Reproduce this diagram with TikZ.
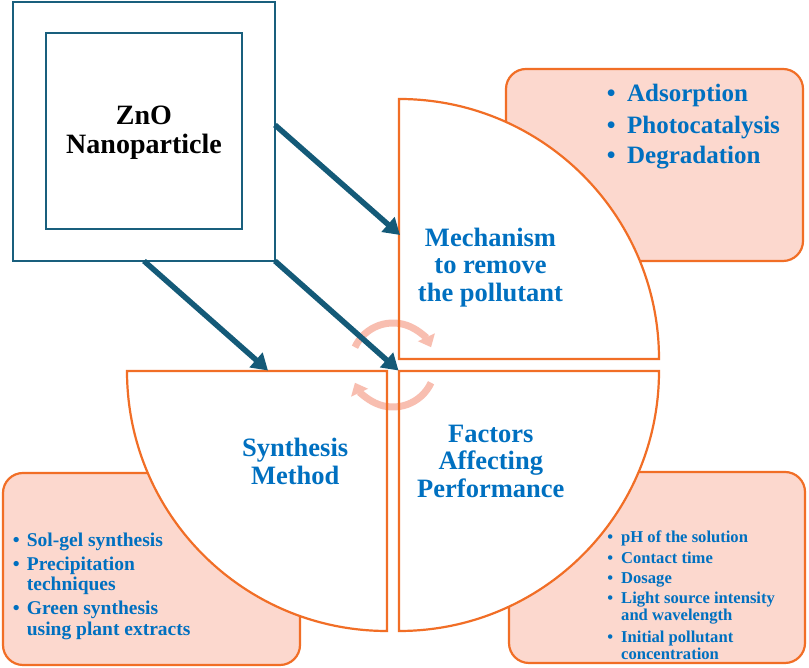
\documentclass[tikz,border=0pt]{standalone}
\usepackage{fontspec}
\setmainfont{Liberation Serif}
\usetikzlibrary{arrows.meta}
\definecolor{orng}{RGB}{241,110,38}
\definecolor{pinkf}{RGB}{252,216,206}
\definecolor{txtblue}{RGB}{0,112,192}
\definecolor{arrcol}{RGB}{20,90,120}
\definecolor{zcol}{RGB}{25,95,125}
\definecolor{cyccol}{RGB}{248,190,176}
\begin{document}
\begin{tikzpicture}[x=1pt,y=1pt,
  pinkbox/.style={draw=orng, line width=2.2pt, fill=pinkf, rounded corners=20pt},
  quartline/.style={draw=orng, line width=2.2pt, line join=miter},
  zbox/.style={draw=zcol, line width=2.4pt, rectangle, inner sep=0pt, outer sep=0pt},
  ztext/.style={text=black, align=center, inner sep=0pt, font=\fontsize{28}{29}\selectfont\bfseries},
  ttl/.style={text=txtblue, align=center, inner sep=0pt, font=\fontsize{26.5}{27.5}\selectfont\bfseries},
  itemA/.style={anchor=base west, inner sep=0pt, text=txtblue, font=\fontsize{25}{31}\selectfont\bfseries},
  itemB/.style={anchor=base west, inner sep=0pt, text=txtblue, font=\fontsize{19.5}{22}\selectfont\bfseries},
  itemC/.style={anchor=base west, inner sep=0pt, text=txtblue, font=\fontsize{16.6}{19}\selectfont\bfseries},
  bigarrow/.style={draw=arrcol, line width=5.5pt, -{Triangle[length=16pt,width=19pt]}},
  cyc/.style={draw=cyccol, line width=7pt, -{Triangle[length=11pt,width=18pt]}}
]
\useasboundingbox (0,0) rectangle (809,668);
\fill[white] (0,0) rectangle (809,668);

% pink boxes
\draw[pinkbox] (506,407) rectangle (803,599);
\draw[pinkbox] (3,3) rectangle (300,195);
\draw[pinkbox] (509,5) rectangle (805,196);

% quarter fills
\fill[white] (399,309) -- (399,569) arc[start angle=90,end angle=0,radius=260] -- cycle;
\fill[white] (399,297) -- (659,297) arc[start angle=0,end angle=-90,radius=260] -- cycle;
\fill[white] (387,297) -- (387,37) arc[start angle=-90,end angle=-180,radius=260] -- cycle;

% cycle arrows
\coordinate (cyc) at (393,303);
\draw[cyc] (cyc) ++(155:42) arc[start angle=155,end angle=25,radius=42];
\draw[cyc] (cyc) ++(-25:42) arc[start angle=-25,end angle=-155,radius=42];

% quarter outlines
\draw[quartline] (399,309) -- (399,569) arc[start angle=90,end angle=0,radius=260] -- cycle;
\draw[quartline] (399,297) -- (659,297) arc[start angle=0,end angle=-90,radius=260] -- cycle;
\draw[quartline] (387,297) -- (387,37) arc[start angle=-90,end angle=-180,radius=260] -- cycle;

% ZnO boxes
\node[zbox, minimum width=262pt, minimum height=259pt] (zno) at (144,536.5) {};
\node[zbox, minimum width=196pt, minimum height=196pt] (znoin) at (144,537) {};
\node[ztext] (zntxt) at (144,535.1) {ZnO\\Nanoparticle};

% titles
\node[ttl] (mech) at (490.5,400.6) {Mechanism\\to remove\\the pollutant};
\node[ttl] (synth) at (295.2,206.7) {Synthesis\\Method};
\node[ttl] (fact) at (490.8,206.7) {Factors\\Affecting\\Performance};

% lists
\node[itemA] (a1) at (606.6,566) {\makebox[20.4pt][l]{\textbullet}Adsorption};
\node[itemA] (a2) at (606.6,534) {\makebox[20.4pt][l]{\textbullet}Photocatalysis};
\node[itemA] (a3) at (606.6,504) {\makebox[20.4pt][l]{\textbullet}Degradation};

\node[itemB] (b1) at (12.6,121) {\makebox[14.1pt][l]{\textbullet}Sol-gel synthesis};
\node[itemB] (b2) at (12.6,97.3) {\makebox[14.1pt][l]{\textbullet}Precipitation};
\node[itemB] (b2c) at (26.7,77.3) {techniques};
\node[itemB] (b3) at (12.6,53) {\makebox[14.1pt][l]{\textbullet}Green synthesis};
\node[itemB] (b3c) at (26.7,32.5) {using plant extracts};

\node[itemC] (c1) at (607.1,125.3) {\makebox[13.9pt][l]{\textbullet}pH of the solution};
\node[itemC] (c2) at (607.1,104.7) {\makebox[13.9pt][l]{\textbullet}Contact time};
\node[itemC] (c3) at (607.1,84) {\makebox[13.9pt][l]{\textbullet}Dosage};
\node[itemC] (c4) at (607.1,64) {\makebox[13.9pt][l]{\textbullet}Light source intensity};
\node[itemC] (c4c) at (621,47) {and wavelength};
\node[itemC] (c5) at (607.1,25.7) {\makebox[13.9pt][l]{\textbullet}Initial pollutant};
\node[itemC] (c5c) at (621,8.7) {concentration};

% arrows
\coordinate (mechin) at (400,433);
\coordinate (synin) at (268,297.5);
\coordinate (facin) at (398.5,297.5);
\draw[bigarrow] ([yshift=6.5pt]zno.east) -- (mechin);
\draw[bigarrow] (zno.south) -- (synin);
\draw[bigarrow] (zno.south east) -- (facin);
\end{tikzpicture}
\end{document}
